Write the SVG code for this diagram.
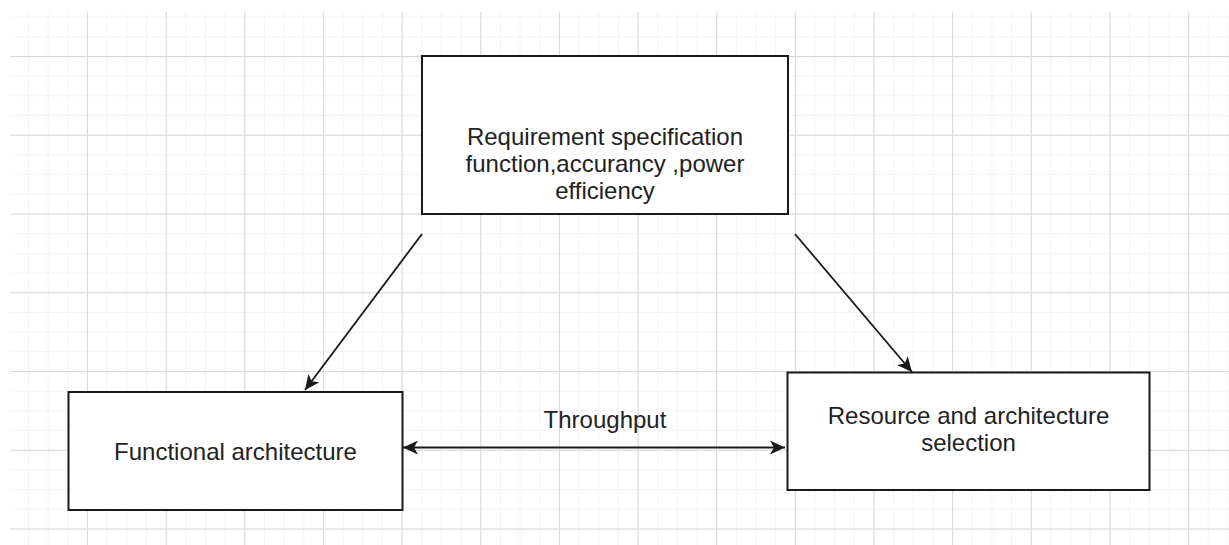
<svg xmlns="http://www.w3.org/2000/svg" width="1229" height="545" viewBox="0 0 1229 545">
  <style>
    .node rect { fill: #ffffff; stroke: #1a1a1a; stroke-width: 2; }
    .label { font-family: "Liberation Sans", Arial, sans-serif; font-size: 24px; fill: #222222; text-anchor: middle; }
    .edge { fill: none; stroke: #1a1a1a; stroke-width: 1.8; }
  </style>
  <defs>
    <pattern id="minor" patternUnits="userSpaceOnUse" x="8.35" y="-3.06" width="19.6625" height="19.6875">
      <path d="M0.5,0 V19.6875 M0,0.5 H19.6625" fill="none" stroke="#f4f4f4" stroke-width="1"/>
    </pattern>
    <pattern id="major" patternUnits="userSpaceOnUse" x="8.35" y="-22.75" width="78.65" height="78.75">
      <path d="M0.5,0 V78.75 M0,0.5 H78.65" fill="none" stroke="#d8d8d8" stroke-width="1"/>
    </pattern>
    <marker id="arrowEnd" markerUnits="userSpaceOnUse" markerWidth="16" markerHeight="14" refX="15" refY="7" orient="auto">
      <path d="M0,0 L15,7 L0,14 L4,7 Z" fill="#1a1a1a"/>
    </marker>
    <marker id="arrowStart" markerUnits="userSpaceOnUse" markerWidth="16" markerHeight="14" refX="0" refY="7" orient="auto">
      <path d="M15,0 L0,7 L15,14 L11,7 Z" fill="#1a1a1a"/>
    </marker>
  </defs>

  <rect x="0" y="0" width="1229" height="545" fill="#ffffff"/>
  <rect x="10" y="12" width="1219" height="533" fill="url(#minor)"/>
  <rect x="10" y="12" width="1219" height="533" fill="url(#major)"/>

  <g id="connectors">
    <line class="edge" x1="422" y1="234" x2="305" y2="390" marker-end="url(#arrowEnd)"/>
    <line class="edge" x1="795" y1="234" x2="912" y2="372" marker-end="url(#arrowEnd)"/>
    <line class="edge" x1="403" y1="447.5" x2="785" y2="447.5" marker-start="url(#arrowStart)" marker-end="url(#arrowEnd)"/>
    <text class="label" x="605" y="428">Throughput</text>
  </g>

  <g id="node-requirement" class="node">
    <rect x="422" y="56" width="366" height="158"/>
    <text class="label" x="605" y="145">Requirement specification</text>
    <text class="label" x="605" y="172">function,accurancy ,power</text>
    <text class="label" x="605" y="198.5">efficiency</text>
  </g>

  <g id="node-functional" class="node">
    <rect x="68.5" y="392" width="334" height="118"/>
    <text class="label" x="235.5" y="459.5">Functional architecture</text>
  </g>

  <g id="node-resource" class="node">
    <rect x="787.5" y="372.5" width="362" height="117.5"/>
    <text class="label" x="968.5" y="424">Resource and architecture</text>
    <text class="label" x="968.5" y="451">selection</text>
  </g>
</svg>
